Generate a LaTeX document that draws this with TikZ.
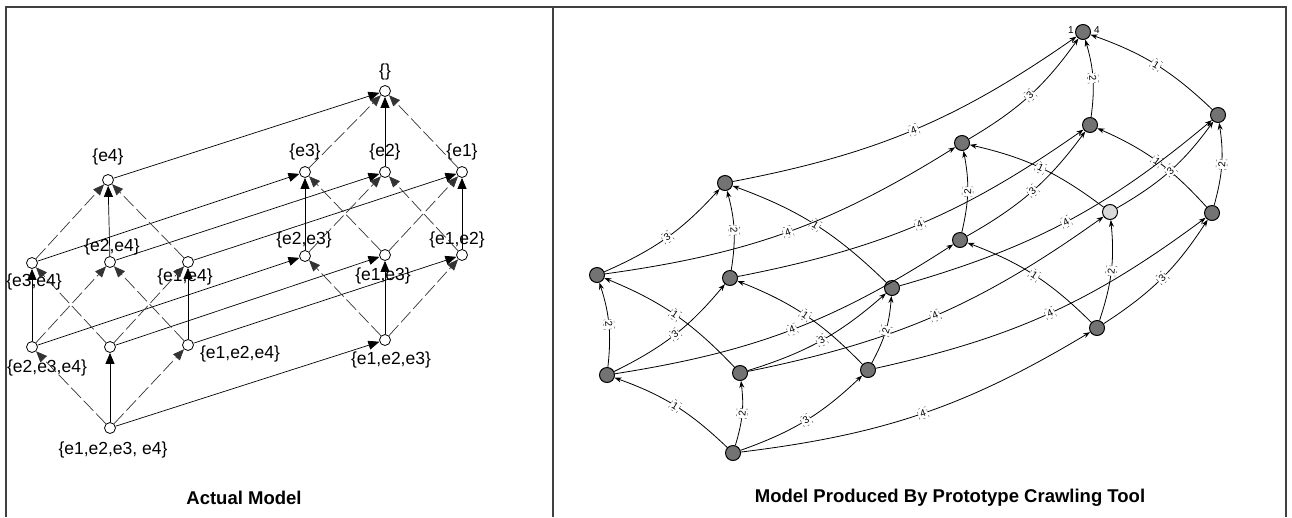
\documentclass[tikz,border=0pt]{standalone}
\usepackage{fontspec}
\setmainfont{Liberation Sans}
\usetikzlibrary{arrows.meta}
\begin{document}
\begin{tikzpicture}[x=1pt,y=-1pt,
  lnode/.style={circle, draw=black, fill=white, minimum size=11pt, inner sep=0pt, line width=0.8pt},
  rnode/.style={circle, draw=black, fill=black!55, minimum size=15pt, inner sep=0pt, line width=1pt},
  lbl/.style={font=\fontsize{17.5}{17.5}\selectfont, inner sep=0pt},
  ttl/.style={font=\bfseries\fontsize{18.5}{18.5}\selectfont, inner sep=0pt},
  frame/.style={draw=black!75, line width=1.2pt},
  sol/.style={draw=black, line width=0.7pt, -{Triangle[length=11pt,width=9pt]}},
  dsh/.style={sol, draw=black!80, dash pattern=on 14pt off 4pt},
  redge/.style={draw=black, line width=0.8pt, -{Stealth[length=7pt,width=5pt]}, bend right=12},
  elab/.style={font=\fontsize{10}{10}\selectfont, fill=white, inner sep=2pt, sloped, draw=black!70, line width=0.4pt, dash pattern=on 2pt off 4pt}
]
\useasboundingbox (0,0) rectangle (1292,517);
% frame
\draw[frame] (6,517) -- (6,7) -- (1286,7) -- (1286,517);
\draw[frame] (553,7) -- (553,517);

% ---------------- left panel ----------------
\node[lnode] (n0) at (385,91) {};
\node[lnode] (n4) at (108,180) {};
\node[lnode] (n3) at (305,172) {};
\node[lnode] (n2) at (385,172) {};
\node[lnode] (n1) at (462,172) {};
\node[lnode] (n34) at (32,263) {};
\node[lnode] (n24) at (110,262) {};
\node[lnode] (n14) at (188,262) {};
\node[lnode] (n23) at (305,256) {};
\node[lnode] (n13) at (385,255) {};
\node[lnode] (n12) at (462,255) {};
\node[lnode] (n234) at (32,347) {};
\node[lnode] (n134) at (110,347) {};
\node[lnode] (n124) at (188,345) {};
\node[lnode] (n123) at (385,340) {};
\node[lnode] (n1234) at (110,428) {};

\node[lbl] (t0) at (385,72) {\{\}};
\node[lbl] (t4) at (108,157) {\{e4\}};
\node[lbl] (t3) at (305,152) {\{e3\}};
\node[lbl] (t2) at (385,152) {\{e2\}};
\node[lbl] (t1) at (462,152) {\{e1\}};
\node[lbl] (t34) at (34,282) {\{e3,e4\}};
\node[lbl] (t24) at (112,247) {\{e2,e4\}};
\node[lbl] (t14) at (185,277) {\{e1,e4\}};
\node[lbl] (t23) at (304,240) {\{e2,e3\}};
\node[lbl] (t13) at (383,276) {\{e1,e3\}};
\node[lbl] (t12) at (457,240) {\{e1,e2\}};
\node[lbl] (t234) at (47,368) {\{e2,e3,e4\}};
\node[lbl] (t124) at (240,354) {\{e1,e2,e4\}};
\node[lbl] (t123) at (391,360) {\{e1,e2,e3\}};
\node[lbl] (t1234) at (113,450) {\{e1,e2,e3, e4\}};
\node[ttl] (tl) at (244,498) {Actual Model};

% vertical solid
\foreach \a/\b in {n2/n0,n24/n4,n23/n3,n12/n1,n234/n34,n124/n14,n123/n13,n1234/n134}
  \draw[sol] (\a) -- (\b);
% long solid
\foreach \a/\b in {n4/n0,n34/n3,n24/n2,n14/n1,n234/n23,n134/n13,n124/n12,n1234/n123}
  \draw[sol] (\a) -- (\b);
% diagonal dashed
\foreach \a/\b in {n3/n0,n1/n0,n34/n4,n14/n4,n23/n2,n12/n2,n13/n3,n13/n1,n234/n24,n134/n34,n134/n14,n124/n24,n123/n23,n123/n12,n1234/n234,n1234/n124}
  \draw[dsh] (\a) -- (\b);

% ---------------- right panel ----------------
\node[rnode] (T) at (1083,32) {};
\node[rnode] (A) at (725,183) {};
\node[rnode] (B) at (962,143) {};
\node[rnode] (C) at (1090,125) {};
\node[rnode] (D) at (1218,115) {};
\node[rnode] (E) at (597,275) {};
\node[rnode] (F) at (730,278) {};
\node[rnode] (G) at (892,288) {};
\node[rnode] (H) at (960,240) {};
\node[rnode, fill=black!15] (I) at (1110,212) {};
\node[rnode] (J) at (1212,213) {};
\node[rnode] (K) at (607,375) {};
\node[rnode] (L) at (740,373) {};
\node[rnode] (M) at (868,370) {};
\node[rnode] (N) at (1097,328) {};
\node[rnode] (O) at (733,453) {};

\node[font=\fontsize{10}{10}\selectfont] (tT1) at (1071,30) {1};
\node[font=\fontsize{10}{10}\selectfont] (tT4) at (1097,30) {4};

\foreach \a/\b/\n in {A/T/4,B/T/3,C/T/2,D/T/1,
  E/A/3,F/A/2,G/A/1,E/B/4,H/B/2,I/B/1,F/C/4,H/C/3,J/C/1,G/D/4,I/D/3,J/D/2,
  K/E/2,K/F/3,K/H/4,L/E/1,L/G/3,L/I/4,M/F/1,M/G/2,M/J/4,N/H/1,N/I/2,N/J/3,
  O/K/1,O/L/2,O/M/3,O/N/4}
  \draw[redge] (\a) to node[elab] {\n} (\b);

\node[ttl] (tr) at (950,498) {Model Produced By Prototype Crawling Tool};
\end{tikzpicture}
\end{document}
